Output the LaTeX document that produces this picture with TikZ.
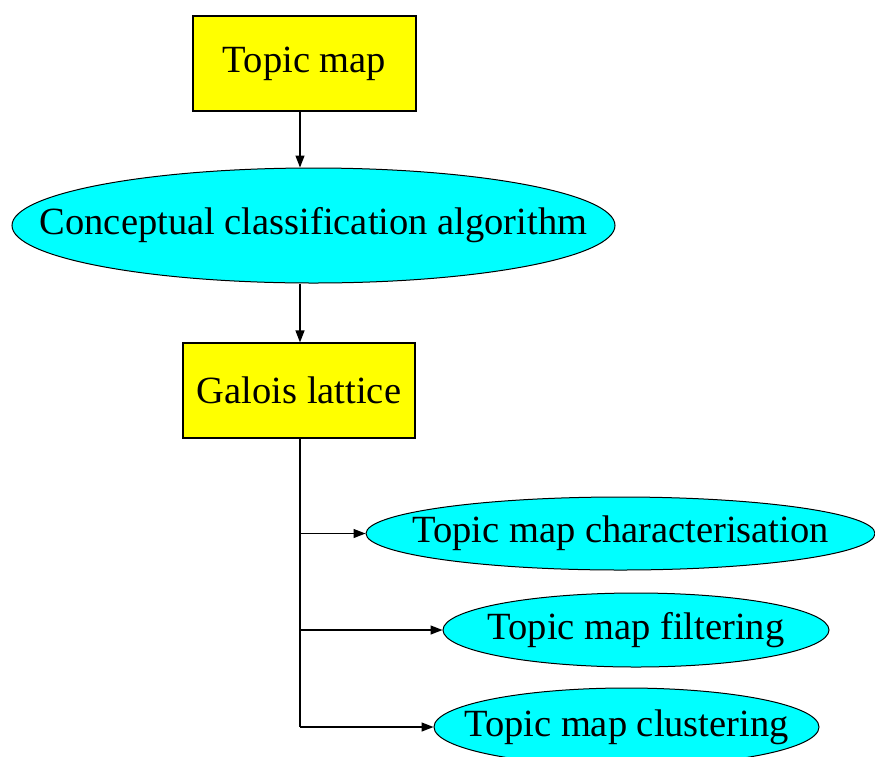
\documentclass[tikz,border=0pt]{standalone}
\usepackage{fontspec}
\setmainfont{Liberation Serif}
\usetikzlibrary{shapes.geometric,arrows.meta}
\definecolor{boxyellow}{RGB}{255,255,0}
\definecolor{ovalcyan}{RGB}{0,255,255}
\begin{document}
\begin{tikzpicture}[x=1pt,y=-1pt,
  label font/.style={font=\fontsize{38.5}{42}\selectfont},
  box/.style={draw=black, line width=1.2pt, fill=boxyellow, inner sep=0pt, label font},
  oval/.style={ellipse, draw=black, line width=1pt, fill=ovalcyan, inner sep=0pt, label font},
  link/.style={line width=1.3pt, -{Triangle[length=12pt,width=9pt]}},
  trunk/.style={line width=1.3pt}]
\useasboundingbox (0,0) rectangle (875,756);
\clip (0,0) rectangle (875,756);
\coordinate (spine) at (300,0);

\node[box, minimum width=223pt, minimum height=95pt] (tm) at (304.5,63.5) {Topic map};
\node[oval, minimum width=603pt, minimum height=115pt] (cca) at (313.5,225.5) {\makebox[0pt]{Conceptual classification algorithm}};
\node[box, minimum width=232pt, minimum height=95pt] (gl) at (299,390.5) {Galois lattice};
\node[oval, minimum width=509pt, minimum height=73pt] (ch) at (620.5,533.5) {\makebox[0pt]{Topic map characterisation}};
\node[oval, minimum width=386pt, minimum height=74pt] (fi) at (636,630) {\makebox[0pt]{Topic map filtering}};
\node[oval, minimum width=385pt, minimum height=78pt] (cl) at (626.5,727) {\makebox[0pt]{Topic map clustering}};

\draw[link] (tm.south -| spine) -- (cca.north -| spine);
\draw[link] (cca.south -| spine) -- (gl.north -| spine);
\draw[trunk] (gl.south -| spine) -- (cl.west -| spine);
\draw[link] (ch.west -| spine) -- (ch.west);
\draw[link] (fi.west -| spine) -- (fi.west);
\draw[link] (cl.west -| spine) -- (cl.west);
\end{tikzpicture}
\end{document}
